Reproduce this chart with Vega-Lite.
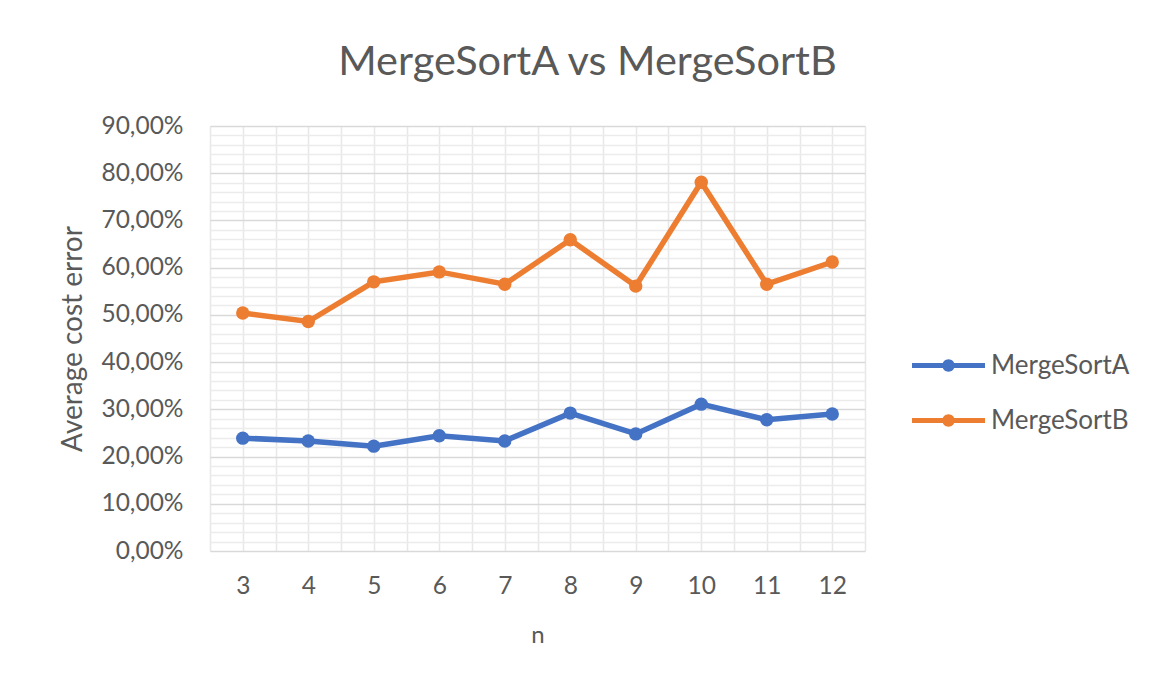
{
  "$schema": "https://vega.github.io/schema/vega-lite/v6.json",
  "width": 655,
  "height": 425,
  "autosize": "none",
  "padding": {"left": 210, "top": 126, "right": 295, "bottom": 142},
  "background": "white",
  "config": {
    "font": "Lato",
    "view": {"stroke": null},
    "axis": {"labelFont": "Lato", "titleFont": "Lato", "labelColor": "#595959", "titleColor": "#595959", "labelFontSize": 24.5, "titleFontWeight": "normal"},
    "legend": {"labelFont": "Lato", "labelColor": "#595959", "labelFontSize": 26}
  },
  "title": {"text": "MergeSortA vs MergeSortB", "fontSize": 41.5, "font": "Lato", "fontWeight": "normal", "color": "#595959", "anchor": "middle", "dx": 50, "offset": 30},
  "data": {"values": [
    {"n": 3, "series": "MergeSortA", "value": 0.239},
    {"n": 4, "series": "MergeSortA", "value": 0.233},
    {"n": 5, "series": "MergeSortA", "value": 0.222},
    {"n": 6, "series": "MergeSortA", "value": 0.244},
    {"n": 7, "series": "MergeSortA", "value": 0.233},
    {"n": 8, "series": "MergeSortA", "value": 0.292},
    {"n": 9, "series": "MergeSortA", "value": 0.248},
    {"n": 10, "series": "MergeSortA", "value": 0.311},
    {"n": 11, "series": "MergeSortA", "value": 0.278},
    {"n": 12, "series": "MergeSortA", "value": 0.290},
    {"n": 3, "series": "MergeSortB", "value": 0.504},
    {"n": 4, "series": "MergeSortB", "value": 0.486},
    {"n": 5, "series": "MergeSortB", "value": 0.570},
    {"n": 6, "series": "MergeSortB", "value": 0.591},
    {"n": 7, "series": "MergeSortB", "value": 0.565},
    {"n": 8, "series": "MergeSortB", "value": 0.659},
    {"n": 9, "series": "MergeSortB", "value": 0.561},
    {"n": 10, "series": "MergeSortB", "value": 0.781},
    {"n": 11, "series": "MergeSortB", "value": 0.565},
    {"n": 12, "series": "MergeSortB", "value": 0.612}
  ]},
  "mark": {"type": "line", "strokeWidth": 5.5, "point": {"filled": true, "size": 180, "opacity": 1}},
  "encoding": {
    "x": {
      "field": "n", "type": "quantitative",
      "scale": {"domain": [2.5, 12.5], "nice": false, "zero": false},
      "axis": {
        "title": "n", "titleFontSize": 24, "values": [2.5, 3, 3.5, 4, 4.5, 5, 5.5, 6, 6.5, 7, 7.5, 8, 8.5, 9, 9.5, 10, 10.5, 11, 11.5, 12, 12.5],
        "labelExpr": "datum.value % 1 === 0 ? '' + datum.value : ''",
        "labelOverlap": false,
        "ticks": false, "domain": false, "grid": true, "gridColor": "#e8e8e8", "gridWidth": 1.5,
        "labelPadding": 23, "titlePadding": 26, "labelFlush": false
      }
    },
    "y": {
      "field": "value", "type": "quantitative",
      "scale": {"domain": [0, 0.9], "nice": false},
      "axis": {
        "title": "Average cost error", "titleFontSize": 28,
        "values": [0, 0.02, 0.04, 0.06, 0.08, 0.1, 0.12, 0.14, 0.16, 0.18, 0.2, 0.22, 0.24, 0.26, 0.28, 0.3, 0.32, 0.34, 0.36, 0.38, 0.4, 0.42, 0.44, 0.46, 0.48, 0.5, 0.52, 0.54, 0.56, 0.58, 0.6, 0.62, 0.64, 0.66, 0.68, 0.7, 0.72, 0.74, 0.76, 0.78, 0.8, 0.82, 0.84, 0.86, 0.88, 0.9],
        "labelExpr": "round(datum.value * 100) % 10 === 0 ? replace(format(datum.value, '.2%'), '.', ',') : ''",
        "labelOverlap": false,
        "ticks": false, "domain": false, "grid": true,
        "gridColor": {"condition": {"test": "round(datum.value * 100) % 10 === 0", "value": "#d9d9d9"}, "value": "#ececec"},
        "gridWidth": 1.5,
        "labelPadding": 27, "titlePadding": 13
      }
    },
    "color": {
      "field": "series", "type": "nominal",
      "scale": {"domain": ["MergeSortA", "MergeSortB"], "range": ["#4472C4", "#ED7D31"]},
      "legend": {
        "title": null, "orient": "none", "legendX": 702, "legendY": 203,
        "symbolType": "M-1,-0.07L1,-0.07L1,0.07L-1,0.07Z M0.17,0 A0.17,0.17 0 1,1 -0.17,0 A0.17,0.17 0 1,1 0.17,0Z",
        "symbolSize": 5329, "symbolStrokeWidth": 0, "symbolOpacity": 1,
        "labelOffset": 6, "rowPadding": 5
      }
    }
  }
}
